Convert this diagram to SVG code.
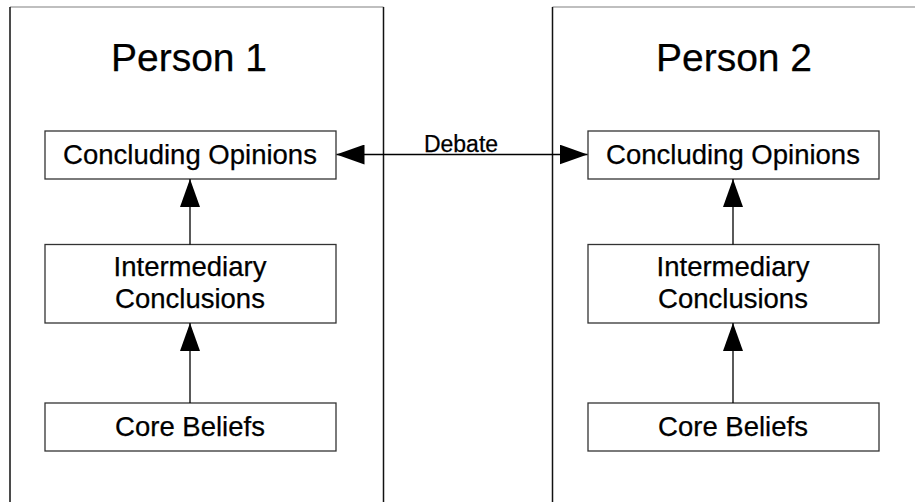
<svg xmlns="http://www.w3.org/2000/svg" width="915" height="502" viewBox="0 0 915 502">
<style>
text{font-family:"Liberation Sans",Arial,sans-serif;fill:#000;text-anchor:middle;stroke:#000;stroke-width:0.25}
.title{font-size:39px}
.lbl{font-size:27.5px}
.dbt{font-size:23px}
.box{fill:#fff;stroke:#333;stroke-width:1.3}
.frame{stroke:#111;stroke-width:1.5;fill:none}
.top{stroke:#aaa;stroke-width:1.5;fill:none}
.conn{stroke:#000;stroke-width:1.3;fill:none}
</style>
<defs>
<marker id="ah" viewBox="0 0 28 20" refX="28" refY="10" markerWidth="28" markerHeight="20" markerUnits="userSpaceOnUse" orient="auto-start-reverse">
<path d="M0,0 L28,10 L0,20 Z" fill="#000"/>
</marker>
</defs>
<rect width="915" height="502" fill="#fff"/>
<g id="panel1">
<path class="top" d="M10,7 H383.5"/>
<path class="frame" d="M10,7 V502 M383.5,7 V502"/>
<text class="title" x="189" y="71">Person 1</text>
</g>
<g id="panel2">
<path class="top" d="M552.5,7 H915"/>
<path class="frame" d="M552.5,7 V502"/>
<text class="title" x="734" y="71">Person 2</text>
</g>
<g id="p1-opinions">
<rect class="box" x="45" y="131" width="291" height="48"/>
<text class="lbl" x="190" y="163.5">Concluding Opinions</text>
</g>
<g id="p1-intermediary">
<rect class="box" x="45" y="244.5" width="291" height="78.5"/>
<text class="lbl" x="190" y="276">Intermediary</text>
<text class="lbl" x="190" y="307.5">Conclusions</text>
</g>
<g id="p1-core">
<rect class="box" x="45" y="403" width="291" height="48"/>
<text class="lbl" x="190" y="436">Core Beliefs</text>
</g>
<g id="p2-opinions">
<rect class="box" x="588" y="131" width="291" height="48"/>
<text class="lbl" x="733" y="163.5">Concluding Opinions</text>
</g>
<g id="p2-intermediary">
<rect class="box" x="588" y="244.5" width="291" height="78.5"/>
<text class="lbl" x="733" y="276">Intermediary</text>
<text class="lbl" x="733" y="307.5">Conclusions</text>
</g>
<g id="p2-core">
<rect class="box" x="588" y="403" width="291" height="48"/>
<text class="lbl" x="733" y="436">Core Beliefs</text>
</g>
<g id="connectors">
<path class="conn" d="M190,244.5 V179" marker-end="url(#ah)"/>
<path class="conn" d="M190,403 V323" marker-end="url(#ah)"/>
<path class="conn" d="M733,244.5 V179" marker-end="url(#ah)"/>
<path class="conn" d="M733,403 V323" marker-end="url(#ah)"/>
<path class="conn" d="M336.5,154.5 H587.5" marker-start="url(#ah)" marker-end="url(#ah)"/>
<text class="dbt" x="461" y="151.5">Debate</text>
</g>
</svg>
